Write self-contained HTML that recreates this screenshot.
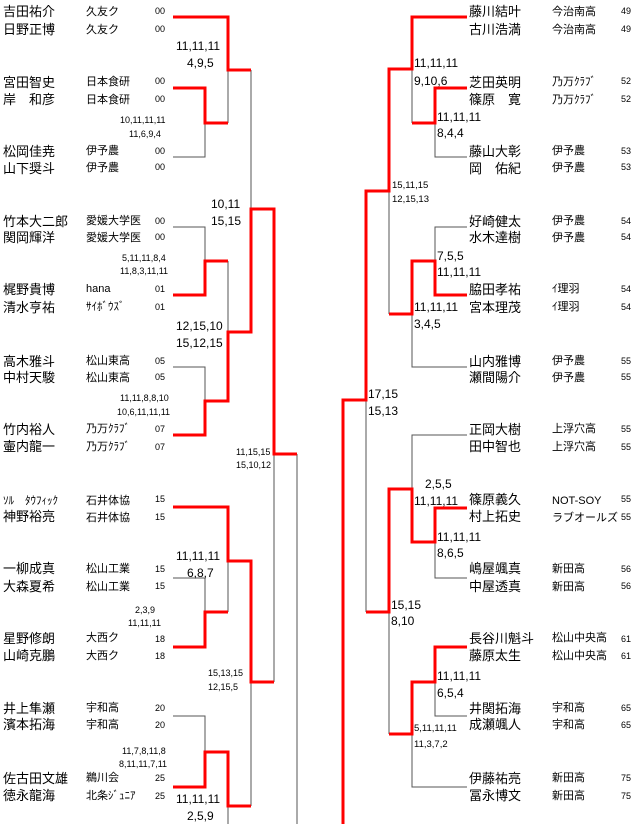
<!DOCTYPE html>
<html><head><meta charset="utf-8"><style>
html,body{margin:0;padding:0;background:#fff;}
svg{display:block;}
text{font-family:"Liberation Sans","Noto Sans CJK JP",sans-serif;fill:#000;}
.n{font-size:13px;}
.c{font-size:11px;}
.k{font-size:9px;}
.s{font-size:12px;}
.t{font-size:9.5px;}
</style></head><body>
<svg width="640" height="824" viewBox="0 0 640 824" xmlns="http://www.w3.org/2000/svg">
<g fill="none" stroke="#555" stroke-width="1">
<path d="M173,157H205V123"/>
<path d="M173,227H205V261"/>
<path d="M173,367H205V401"/>
<path d="M173,578H205V612"/>
<path d="M173,716H205V752"/>
<path d="M228,70V123 M228,261V332 M228,561V612 M228,806V824"/>
<path d="M251,70V209 M251,682V806"/>
<path d="M274,454V682"/>
<path d="M297,454V824"/>
<path d="M467,157H435V123"/>
<path d="M467,227H435V261"/>
<path d="M467,367H412V314"/>
<path d="M467,435H412V489"/>
<path d="M467,578H435V542"/>
<path d="M467,716H435V682"/>
<path d="M467,787H412V734"/>
<path d="M412,69V123 M389,191V314 M366,400V612 M389,612V734"/>
</g>
<g fill="none" stroke="#f00" stroke-width="3">
<path d="M173,17H228V70H251"/>
<path d="M173,88H205V123H228"/>
<path d="M173,295H205V261H228"/>
<path d="M173,435H205V401H228V332H251V209H274V454H297"/>
<path d="M173,507H228V561H251V682H274"/>
<path d="M173,647H205V612H228"/>
<path d="M173,787H205V752H228V806H251"/>
<path d="M467,17H412V69H389V191H366V400H343V824"/>
<path d="M467,88H435V123H412"/>
<path d="M467,295H435V261H412V314H389"/>
<path d="M467,508H435V542H412V489H389V612H366"/>
<path d="M467,647H435V682H412V734H389"/>
</g>

<!-- left names -->
<g class="n">
<text x="3" y="16">吉田祐介</text><text x="3" y="34">日野正博</text>
<text x="3" y="87">宮田智史</text><text x="3" y="104">岸　和彦</text>
<text x="3" y="156">松岡佳尭</text><text x="3" y="173">山下奨斗</text>
<text x="3" y="226">竹本大二郎</text><text x="3" y="242">関岡輝洋</text>
<text x="3" y="294">梶野貴博</text><text x="3" y="312">清水亨祐</text>
<text x="3" y="366">高木雅斗</text><text x="3" y="382">中村天駿</text>
<text x="3" y="434">竹内裕人</text><text x="3" y="451">壷内龍一</text>
<text x="3" y="504" style="font-size:11px">ｿﾙ　ﾀｳﾌｨｯｸ</text><text x="3" y="521">神野裕亮</text>
<text x="3" y="573">一柳成真</text><text x="3" y="591">大森夏希</text>
<text x="3" y="643">星野修朗</text><text x="3" y="660">山崎克鵬</text>
<text x="3" y="713">井上隼瀬</text><text x="3" y="729">濱本拓海</text>
<text x="3" y="783">佐古田文雄</text><text x="3" y="800">徳永龍海</text>
</g>
<g class="c">
<text x="86" y="15">久友ク</text><text x="86" y="33">久友ク</text>
<text x="86" y="85">日本食研</text><text x="86" y="103">日本食研</text>
<text x="86" y="154">伊予農</text><text x="86" y="171">伊予農</text>
<text x="86" y="224">愛媛大学医</text><text x="86" y="241">愛媛大学医</text>
<text x="86" y="292">hana</text><text x="86" y="310">ｻｲﾎﾞｳｽﾞ</text>
<text x="86" y="364">松山東高</text><text x="86" y="381">松山東高</text>
<text x="86" y="432">乃万ｸﾗﾌﾞ</text><text x="86" y="450">乃万ｸﾗﾌﾞ</text>
<text x="86" y="504">石井体協</text><text x="86" y="521">石井体協</text>
<text x="86" y="572">松山工業</text><text x="86" y="590">松山工業</text>
<text x="86" y="641">大西ク</text><text x="86" y="659">大西ク</text>
<text x="86" y="711">宇和高</text><text x="86" y="728">宇和高</text>
<text x="86" y="781">鵜川会</text><text x="86" y="799">北条ｼﾞｭﾆｱ</text>
</g>
<g class="k">
<text x="155" y="14">00</text><text x="155" y="32">00</text>
<text x="155" y="84">00</text><text x="155" y="102">00</text>
<text x="155" y="154">00</text><text x="155" y="170">00</text>
<text x="155" y="224">00</text><text x="155" y="240">00</text>
<text x="155" y="292">01</text><text x="155" y="310">01</text>
<text x="155" y="364">05</text><text x="155" y="380">05</text>
<text x="155" y="432">07</text><text x="155" y="450">07</text>
<text x="155" y="502">15</text><text x="155" y="520">15</text>
<text x="155" y="572">15</text><text x="155" y="589">15</text>
<text x="155" y="642">18</text><text x="155" y="659">18</text>
<text x="155" y="711">20</text><text x="155" y="728">20</text>
<text x="155" y="781">25</text><text x="155" y="799">25</text>
</g>
<!-- left scores -->
<g class="s">
<text x="176" y="50">11,11,11</text><text x="187" y="67">4,9,5</text>
<text x="211" y="208">10,11</text><text x="211" y="225">15,15</text>
<text x="176" y="330">12,15,10</text><text x="176" y="347">15,12,15</text>
<text x="176" y="560">11,11,11</text><text x="187" y="577">6,8,7</text>
<text x="176" y="803">11,11,11</text><text x="187" y="820">2,5,9</text>
</g>
<g class="k">
<text x="120" y="123">10,11,11,11</text><text x="129" y="137">11,6,9,4</text>
<text x="122" y="261">5,11,11,8,4</text><text x="120" y="274">11,8,3,11,11</text>
<text x="120" y="401">11,11,8,8,10</text><text x="117" y="415">10,6,11,11,11</text>
<text x="236" y="455">11,15,15</text><text x="236" y="468">15,10,12</text>
<text x="135" y="613">2,3,9</text><text x="128" y="626">11,11,11</text>
<text x="208" y="676">15,13,15</text><text x="208" y="690">12,15,5</text>
<text x="122" y="754">11,7,8,11,8</text><text x="119" y="767">8,11,11,7,11</text>
</g>

<!-- right names -->
<g class="n">
<text x="469" y="16">藤川結叶</text><text x="469" y="34">古川浩満</text>
<text x="469" y="87">芝田英明</text><text x="469" y="104">篠原　寛</text>
<text x="469" y="156">藤山大彰</text><text x="469" y="173">岡　佑紀</text>
<text x="469" y="226">好崎健太</text><text x="469" y="242">水木達樹</text>
<text x="469" y="294">脇田孝祐</text><text x="469" y="312">宮本理茂</text>
<text x="469" y="366">山内雅博</text><text x="469" y="382">瀬間陽介</text>
<text x="469" y="434">正岡大樹</text><text x="469" y="451">田中智也</text>
<text x="469" y="504">篠原義久</text><text x="469" y="521">村上拓史</text>
<text x="469" y="573">嶋屋颯真</text><text x="469" y="591">中屋透真</text>
<text x="469" y="643">長谷川魁斗</text><text x="469" y="660">藤原太生</text>
<text x="469" y="713">井関拓海</text><text x="469" y="729">成瀬颯人</text>
<text x="469" y="783">伊藤祐亮</text><text x="469" y="800">冨永博文</text>
</g>
<g class="c">
<text x="552" y="15">今治南高</text><text x="552" y="33">今治南高</text>
<text x="552" y="85">乃万ｸﾗﾌﾞ</text><text x="552" y="103">乃万ｸﾗﾌﾞ</text>
<text x="552" y="154">伊予農</text><text x="552" y="171">伊予農</text>
<text x="552" y="224">伊予農</text><text x="552" y="241">伊予農</text>
<text x="552" y="292">ｲ理羽</text><text x="552" y="310">ｲ理羽</text>
<text x="552" y="364">伊予農</text><text x="552" y="381">伊予農</text>
<text x="552" y="432">上浮穴高</text><text x="552" y="450">上浮穴高</text>
<text x="552" y="504">NOT-SOY</text><text x="552" y="521">ラブオールズ</text>
<text x="552" y="572">新田高</text><text x="552" y="590">新田高</text>
<text x="552" y="641">松山中央高</text><text x="552" y="659">松山中央高</text>
<text x="552" y="711">宇和高</text><text x="552" y="728">宇和高</text>
<text x="552" y="781">新田高</text><text x="552" y="799">新田高</text>
</g>
<g class="k">
<text x="621" y="14">49</text><text x="621" y="32">49</text>
<text x="621" y="84">52</text><text x="621" y="102">52</text>
<text x="621" y="154">53</text><text x="621" y="170">53</text>
<text x="621" y="224">54</text><text x="621" y="240">54</text>
<text x="621" y="292">54</text><text x="621" y="310">54</text>
<text x="621" y="364">55</text><text x="621" y="380">55</text>
<text x="621" y="432">55</text><text x="621" y="450">55</text>
<text x="621" y="502">55</text><text x="621" y="520">55</text>
<text x="621" y="572">56</text><text x="621" y="589">56</text>
<text x="621" y="642">61</text><text x="621" y="659">61</text>
<text x="621" y="711">65</text><text x="621" y="728">65</text>
<text x="621" y="781">75</text><text x="621" y="799">75</text>
</g>
<!-- right scores -->
<g class="s">
<text x="414" y="67">11,11,11</text><text x="414" y="85">9,10,6</text>
<text x="437" y="121">11,11,11</text><text x="437" y="137">8,4,4</text>
<text x="437" y="260">7,5,5</text><text x="437" y="276">11,11,11</text>
<text x="414" y="311">11,11,11</text><text x="414" y="328">3,4,5</text>
<text x="368" y="398">17,15</text><text x="368" y="415">15,13</text>
<text x="425" y="488">2,5,5</text><text x="414" y="505">11,11,11</text>
<text x="437" y="541">11,11,11</text><text x="437" y="557">8,6,5</text>
<text x="391" y="609">15,15</text><text x="391" y="625">8,10</text>
<text x="437" y="680">11,11,11</text><text x="437" y="697">6,5,4</text>
</g>
<g class="t">
<text x="392" y="188">15,11,15</text><text x="392" y="202">12,15,13</text>
<text x="414" y="731">5,11,11,11</text><text x="414" y="747">11,3,7,2</text>
</g>
</svg>
</body></html>
